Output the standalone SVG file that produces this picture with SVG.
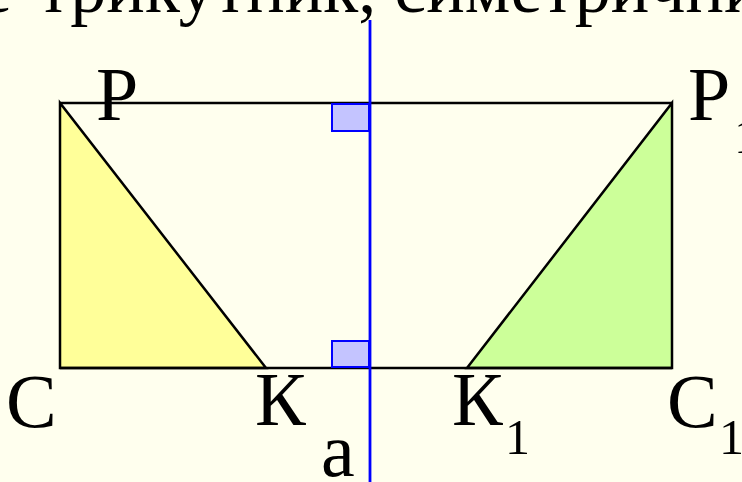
<svg xmlns="http://www.w3.org/2000/svg" width="742" height="482" viewBox="0 0 742 482">
<style>
.t{font-family:"Liberation Serif","Times New Roman",serif;fill:#000}
.lbl{font-size:76px}
.sub{font-size:50px}
.hd{font-size:72px}
.edge{stroke:#000;stroke-width:2.5;fill:none}
.tri{stroke:#000;stroke-width:2.5;stroke-linejoin:miter}
.sq{fill:#C4C4FF;stroke:#0000FF;stroke-width:2}
</style>
<rect x="0" y="0" width="742" height="482" fill="#FFFFEE"/>
<text class="t hd" y="12"><tspan x="-20">е</tspan><tspan x="38">трикутник, симетричний</tspan></text>
<g id="triangle-PCK">
<polygon class="tri" points="60,103 60,368 266,368" fill="#FFFF99"/>
</g>
<g id="triangle-P1C1K1">
<polygon class="tri" points="672,103 672,368 467,368" fill="#CCFF99"/>
</g>
<g id="connectors">
<line class="edge" x1="60" y1="103" x2="672" y2="103"/>
<line class="edge" x1="60" y1="368" x2="672" y2="368"/>
</g>
<g id="right-angle-top"><rect class="sq" x="332" y="104" width="37" height="27"/></g>
<g id="right-angle-bottom"><rect class="sq" x="332" y="341" width="37" height="26"/></g>
<g id="axis-a">
<line x1="370" y1="20" x2="370" y2="482" stroke="#0000FF" stroke-width="2.8"/>
</g>
<g id="labels">
<text class="t lbl" x="96" y="120">Р</text>
<text class="t lbl" x="688" y="120">Р</text><text class="t sub" x="734" y="153">1</text>
<text class="t lbl" x="6" y="427">С</text>
<text class="t lbl" x="255" y="425">К</text>
<text class="t lbl" x="452" y="425">К</text><text class="t sub" x="505" y="454">1</text>
<text class="t lbl" x="667" y="427">С</text><text class="t sub" x="719" y="454">1</text>
<text class="t lbl" x="321" y="476">а</text>
</g>
</svg>
